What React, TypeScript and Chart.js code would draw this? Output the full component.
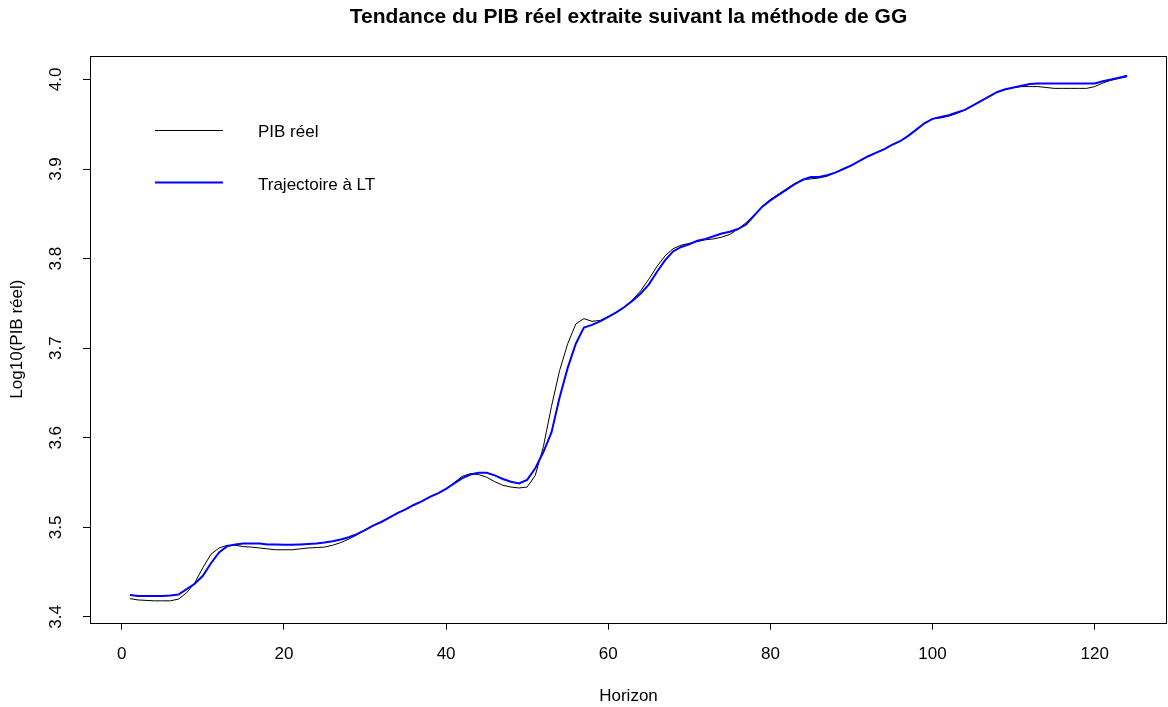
import React, { useEffect, useRef } from "react";
import { Chart, registerables } from "chart.js";

Chart.register(...registerables);

const TITLE = "Tendance du PIB réel extraite suivant la méthode de GG";
const X_TITLE = "Horizon";
const Y_TITLE = "Log10(PIB réel)";
const LABEL_REAL = "PIB réel";
const LABEL_TREND = "Trajectoire à LT";

const horizon: number[] = Array.from({ length: 124 }, (_, i) => i + 1);

// Log10 of real GDP (black line)
const pibReel: number[] = [
  3.4205, 3.419, 3.4185, 3.418, 3.418, 3.418, 3.420, 3.427, 3.438, 3.455,
  3.470, 3.477, 3.480, 3.480, 3.4785, 3.478, 3.477, 3.476, 3.475, 3.475,
  3.475, 3.476, 3.477, 3.4775, 3.478, 3.480, 3.483, 3.487, 3.4915, 3.497,
  3.502, 3.506, 3.511, 3.516, 3.520, 3.525, 3.529, 3.534, 3.538, 3.543,
  3.550, 3.557, 3.560, 3.559, 3.556, 3.551, 3.547, 3.545, 3.544, 3.545,
  3.558, 3.590, 3.635, 3.675, 3.705, 3.727, 3.733, 3.730, 3.731, 3.735,
  3.740, 3.746, 3.754, 3.764, 3.777, 3.791, 3.803, 3.811, 3.815, 3.817,
  3.819, 3.821, 3.822, 3.824, 3.827, 3.833, 3.840, 3.849, 3.858, 3.866,
  3.872, 3.878, 3.884, 3.888, 3.889, 3.890, 3.892, 3.896, 3.900, 3.904,
  3.909, 3.914, 3.918, 3.922, 3.927, 3.931, 3.937, 3.944, 3.951, 3.956,
  3.957, 3.959, 3.962, 3.966, 3.971, 3.976, 3.981, 3.986, 3.989, 3.991,
  3.992, 3.992, 3.992, 3.991, 3.990, 3.990, 3.990, 3.990, 3.990, 3.992,
  3.996, 3.999, 4.001, 4.003,
];

// Long-term trajectory (blue line)
const trajectoireLT: number[] = [
  3.4245, 3.4235, 3.4235, 3.4235, 3.4235, 3.424, 3.425, 3.431, 3.437, 3.446,
  3.460, 3.472, 3.479, 3.481, 3.482, 3.482, 3.482, 3.481, 3.481, 3.4805,
  3.4805, 3.481, 3.4815, 3.482, 3.483, 3.4845, 3.4865, 3.489, 3.4925, 3.497,
  3.502, 3.506, 3.511, 3.516, 3.520, 3.525, 3.529, 3.534, 3.538, 3.543,
  3.549, 3.555, 3.559, 3.561, 3.561, 3.558, 3.554, 3.551, 3.549, 3.553,
  3.566, 3.584, 3.606, 3.645, 3.678, 3.705, 3.723, 3.726, 3.730, 3.735,
  3.740, 3.746, 3.753, 3.761, 3.771, 3.785, 3.798, 3.808, 3.813, 3.816,
  3.820, 3.822, 3.825, 3.828, 3.830, 3.833, 3.838, 3.848, 3.858, 3.865,
  3.871, 3.877, 3.883, 3.888, 3.891, 3.891, 3.893, 3.896, 3.900, 3.904,
  3.909, 3.914, 3.918, 3.922, 3.927, 3.931, 3.937, 3.944, 3.951, 3.956,
  3.958, 3.960, 3.963, 3.966, 3.971, 3.976, 3.981, 3.986, 3.989, 3.991,
  3.993, 3.995, 3.9955, 3.9955, 3.9955, 3.9955, 3.9955, 3.9955, 3.9955, 3.9955,
  3.998, 4.000, 4.002, 4.004,
];

const xTicks: number[] = [0, 20, 40, 60, 80, 100, 120];
const yTicks: number[] = [3.4, 3.5, 3.6, 3.7, 3.8, 3.9, 4.0];

const FONT = '"Liberation Sans", Arial, Helvetica, sans-serif';

const decorPlugin = {
  id: "decor",
  afterDraw(chart: any) {
    const { ctx, chartArea } = chart;
    ctx.save();
    // plot box
    ctx.strokeStyle = "#000";
    ctx.lineWidth = 1;
    const l = Math.round(chartArea.left) + 0.5;
    const t = Math.round(chartArea.top) + 0.5;
    const r = Math.round(chartArea.right) - 0.5;
    const b = Math.round(chartArea.bottom) + 0.5;
    ctx.strokeRect(l, t, r - l, b - t);
    // title
    ctx.fillStyle = "#000";
    ctx.font = `bold 21px ${FONT}`;
    ctx.textAlign = "center";
    ctx.textBaseline = "alphabetic";
    ctx.fillText(TITLE, (chartArea.left + chartArea.right) / 2, 23);
    // legend
    const ds = chart.data.datasets;
    const rows = [
      { ds: ds[0], y: 130 },
      { ds: ds[1], y: 182.5 },
    ];
    ctx.font = `17px ${FONT}`;
    ctx.textAlign = "left";
    ctx.textBaseline = "middle";
    rows.forEach((row) => {
      ctx.strokeStyle = row.ds.borderColor;
      ctx.lineWidth = row.ds.borderWidth;
      ctx.beginPath();
      const yy = row.ds.borderWidth === 1 ? row.y + 0.5 : row.y;
      ctx.moveTo(155, yy);
      ctx.lineTo(223, yy);
      ctx.stroke();
      ctx.fillStyle = "#000";
      ctx.fillText(row.ds.label, 258, row.y + 2.5);
    });
    ctx.restore();
  },
};

export default function App() {
  const ref = useRef<HTMLCanvasElement | null>(null);

  useEffect(() => {
    if (!ref.current) return;
    const chart = new Chart(ref.current, {
      type: "line",
      data: {
        datasets: [
          {
            label: LABEL_REAL,
            data: horizon.map((x, i) => ({ x, y: pibReel[i] })),
            borderColor: "#000000",
            borderWidth: 1,
            pointRadius: 0,
            tension: 0,
            fill: false,
            order: 2,
          },
          {
            label: LABEL_TREND,
            data: horizon.map((x, i) => ({ x, y: trajectoireLT[i] })),
            borderColor: "#0000FF",
            borderWidth: 2,
            pointRadius: 0,
            tension: 0,
            fill: false,
            order: 1,
          },
        ],
      },
      options: {
        animation: false,
        responsive: false,
        maintainAspectRatio: false,
        devicePixelRatio: 1,
        layout: { padding: { top: 55.5, right: 1, left: 0, bottom: 0 } },
        plugins: {
          legend: { display: false },
          title: { display: false },
          tooltip: { enabled: false },
        },
        scales: {
          x: {
            type: "linear",
            min: -3.92,
            max: 128.92,
            afterBuildTicks: (s: any) => {
              s.ticks = xTicks.map((v) => ({ value: v }));
            },
            afterFit: (s: any) => {
              s.height = 84.3;
            },
            grid: {
              display: true,
              drawOnChartArea: false,
              drawTicks: true,
              tickLength: 7,
              color: "#000",
              lineWidth: 1,
            },
            border: { display: false },
            ticks: {
              color: "#000",
              font: { family: FONT, size: 17 },
              padding: 14,
              maxRotation: 0,
              minRotation: 0,
              autoSkip: false,
              callback: (v: any) => String(v),
            },
            title: {
              display: true,
              text: X_TITLE,
              color: "#000",
              font: { family: FONT, size: 17 },
              padding: { top: 0, bottom: 0 },
            },
          },
          y: {
            type: "linear",
            min: 3.3936,
            max: 4.0267,
            afterBuildTicks: (s: any) => {
              s.ticks = yTicks.map((v) => ({ value: v }));
            },
            afterFit: (s: any) => {
              s.width = 90;
            },
            grid: {
              display: true,
              drawOnChartArea: false,
              drawTicks: true,
              tickLength: 7,
              color: "#000",
              lineWidth: 1,
            },
            border: { display: false },
            ticks: {
              color: "#000",
              font: { family: FONT, size: 17 },
              padding: 15,
              minRotation: 90,
              maxRotation: 90,
              crossAlign: "center",
              autoSkip: false,
              callback: (v: any) => Number(v).toFixed(1),
            },
            title: {
              display: true,
              text: Y_TITLE,
              color: "#000",
              font: { family: FONT, size: 17 },
              padding: { top: 7, bottom: 0 },
            },
          },
        },
      },
      plugins: [decorPlugin],
    });
    return () => chart.destroy();
  }, []);

  return (
    <div style={{ position: "absolute", left: 0, top: 0, width: 1168, height: 707, background: "#fff" }}>
      <canvas ref={ref} width={1168} height={707} style={{ width: 1168, height: 707, display: "block" }} />
    </div>
  );
}
